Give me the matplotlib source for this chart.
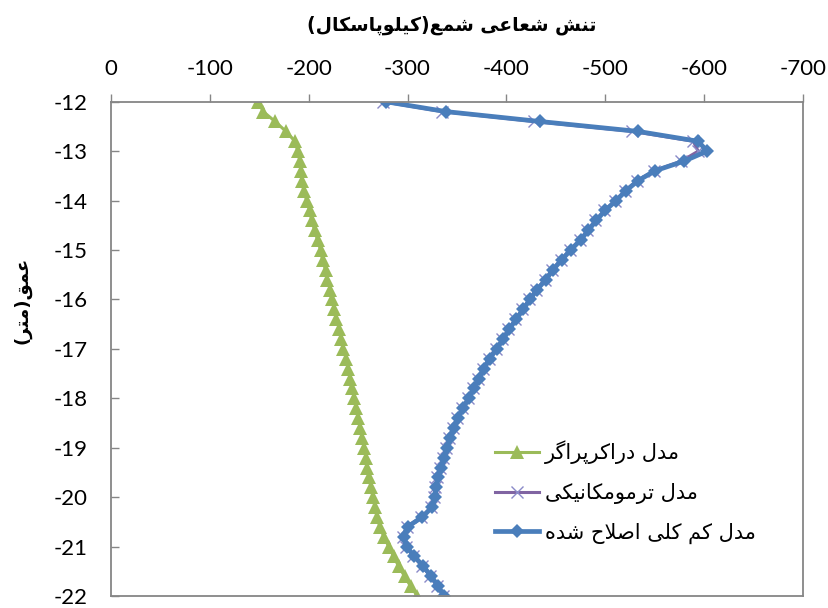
import matplotlib
matplotlib.use("Agg")
import matplotlib.pyplot as plt

plt.rcParams['axes.unicode_minus'] = False

# depth (m) - same nodes for all three models
depth = [-12.0, -12.2, -12.4, -12.6, -12.8, -13.0, -13.2, -13.4, -13.6, -13.8,
         -14.0, -14.2, -14.4, -14.6, -14.8, -15.0, -15.2, -15.4, -15.6, -15.8,
         -16.0, -16.2, -16.4, -16.6, -16.8, -17.0, -17.2, -17.4, -17.6, -17.8,
         -18.0, -18.2, -18.4, -18.6, -18.8, -19.0, -19.2, -19.4, -19.6, -19.8,
         -20.0, -20.2, -20.4, -20.6, -20.8, -21.0, -21.2, -21.4, -21.6, -21.8,
         -22.0]

# radial stress (kPa)
drucker_prager = [-149, -154, -166, -177, -186, -189, -191, -192, -193, -195,
                  -198, -201, -203, -206, -209, -212, -214, -217, -219, -222,
                  -224, -226, -228, -231, -233, -235, -238, -240, -242, -244,
                  -246, -248, -250, -252, -254, -256, -258, -259, -261, -263,
                  -265, -267, -269, -272, -276, -281, -286, -291, -297, -303,
                  -310]

thermo_mech = [-275, -335, -428, -527, -589, -594, -577, -549, -532, -520,
               -510, -499, -490, -482, -474, -464, -455, -446, -439, -430,
               -423, -416, -409, -402, -396, -389, -382, -376, -371, -366,
               -361, -355, -350, -346, -342, -339, -336, -333, -330, -328,
               -327, -324, -314, -299, -295, -298, -306, -315, -323, -330,
               -336]

cam_clay = [-278, -339, -434, -533, -594, -603, -580, -550, -533, -521,
            -511, -500, -491, -483, -475, -465, -456, -447, -440, -431,
            -424, -417, -410, -403, -397, -390, -383, -377, -372, -367,
            -362, -356, -351, -347, -343, -340, -337, -334, -331, -329,
            -328, -325, -315, -300, -296, -299, -307, -316, -324, -331,
            -337]

xticks = [0, -100, -200, -300, -400, -500, -600, -700]
xticklabels = ['0', '-100', '-200', '-300', '-400', '-500', '-600', '-700']
yticks = [-12, -13, -14, -15, -16, -17, -18, -19, -20, -21, -22]
yticklabels = ['-12', '-13', '-14', '-15', '-16', '-17', '-18', '-19', '-20', '-21', '-22']

title_txt = 'تنش شعاعی شمع(کیلوپاسکال)'
ylabel_txt = 'عمق(متر)'
labels = ['مدل دراکرپراگر', 'مدل ترمومکانیکی', 'مدل کم کلی اصلاح شده']


# matplotlib has no arabic shaping, so pick the presentation forms by hand
FORMS = {
    'ا': ('\ufe8d', '\ufe8e'), 'آ': ('\ufe81', '\ufe82'),
    'د': ('\ufea9', '\ufeaa'), 'ذ': ('\ufeab', '\ufeac'),
    'ر': ('\ufead', '\ufeae'), 'ز': ('\ufeaf', '\ufeb0'),
    'ژ': ('\ufb8a', '\ufb8b'), 'و': ('\ufeed', '\ufeee'),
    'ب': ('\ufe8f', '\ufe90', '\ufe91', '\ufe92'),
    'پ': ('\ufb56', '\ufb57', '\ufb58', '\ufb59'),
    'ت': ('\ufe95', '\ufe96', '\ufe97', '\ufe98'),
    'ج': ('\ufe9d', '\ufe9e', '\ufe9f', '\ufea0'),
    'چ': ('\ufb7a', '\ufb7b', '\ufb7c', '\ufb7d'),
    'ح': ('\ufea1', '\ufea2', '\ufea3', '\ufea4'),
    'خ': ('\ufea5', '\ufea6', '\ufea7', '\ufea8'),
    'س': ('\ufeb1', '\ufeb2', '\ufeb3', '\ufeb4'),
    'ش': ('\ufeb5', '\ufeb6', '\ufeb7', '\ufeb8'),
    'ص': ('\ufeb9', '\ufeba', '\ufebb', '\ufebc'),
    'ع': ('\ufec9', '\ufeca', '\ufecb', '\ufecc'),
    'ف': ('\ufed1', '\ufed2', '\ufed3', '\ufed4'),
    'ق': ('\ufed5', '\ufed6', '\ufed7', '\ufed8'),
    'ک': ('\ufb8e', '\ufb8f', '\ufb90', '\ufb91'),
    'گ': ('\ufb92', '\ufb93', '\ufb94', '\ufb95'),
    'ل': ('\ufedd', '\ufede', '\ufedf', '\ufee0'),
    'م': ('\ufee1', '\ufee2', '\ufee3', '\ufee4'),
    'ن': ('\ufee5', '\ufee6', '\ufee7', '\ufee8'),
    'ه': ('\ufee9', '\ufeea', '\ufeeb', '\ufeec'),
    'ی': ('\ufbfc', '\ufbfd', '\ufbfe', '\ufbff'),
}


def fa(text):
    out = []
    i = 0
    n = len(text)
    while i < n:
        c = text[i]
        if c not in FORMS:
            out.append(c)
            i += 1
            continue
        prev = text[i - 1] if i > 0 else ''
        jp = prev in FORMS and len(FORMS[prev]) == 4
        if c == 'ل' and i + 1 < n and text[i + 1] == 'ا':
            out.append('\ufefc' if jp else '\ufefb')
            i += 2
            continue
        nxt = text[i + 1] if i + 1 < n else ''
        jn = len(FORMS[c]) == 4 and nxt in FORMS
        f = FORMS[c]
        if jp and jn:
            out.append(f[3])
        elif jp:
            out.append(f[1])
        elif jn:
            out.append(f[2])
        else:
            out.append(f[0])
        i += 1
    vis = ''.join(reversed(out))
    return vis.translate(str.maketrans('()', ')('))


fig = plt.figure(figsize=(8.29, 6.08), dpi=100)
ax = fig.add_axes([0.1339, 0.0197, 0.8347, 0.8130])

ax.plot(drucker_prager, depth, color='#9BBB59', lw=2.2, marker='^',
        markersize=10, markeredgewidth=0, label=fa(labels[0]))
ax.plot(thermo_mech, depth, color='#8064A2', lw=2.2, marker='x',
        markersize=9, markeredgewidth=1, markeredgecolor='#8A8AC8', label=fa(labels[1]))
ax.plot(cam_clay, depth, color='#4A7EBB', lw=3.4, marker='D',
        markersize=7, markeredgewidth=0, label=fa(labels[2]))

ax.set_xlim(0, -700)
ax.set_ylim(-22, -12)
ax.xaxis.tick_top()
ax.set_xticks(xticks)
ax.set_xticklabels(xticklabels, fontsize=16, family='Lato')
ax.set_yticks(yticks)
ax.set_yticklabels(yticklabels, fontsize=16, family='Lato')
ax.tick_params(axis='x', direction='out', length=6, width=1, color='#868686', pad=10)
ax.tick_params(axis='y', direction='in', length=6, width=1, color='#868686', pad=17)
for s in ax.spines.values():
    s.set_color('#868686')
    s.set_linewidth(1.3)

fig.text(0.545, 1 - 25 / 608, fa(title_txt), ha='center', va='center',
         fontsize=13.5, fontweight='bold', family='DejaVu Sans')
fig.text(22 / 829, 1 - 300 / 608, fa(ylabel_txt), ha='center', va='center',
         rotation=90, fontsize=13, fontweight='bold', family='DejaVu Sans')

ax.legend(loc='upper left', bbox_to_anchor=(0.555, 0.315), frameon=False,
          prop={'family': 'DejaVu Sans', 'size': 15}, handlelength=2.1,
          handletextpad=0.3, labelspacing=0.9, numpoints=1,
          borderpad=0, borderaxespad=0)

fig.savefig('out.png', dpi=100)
